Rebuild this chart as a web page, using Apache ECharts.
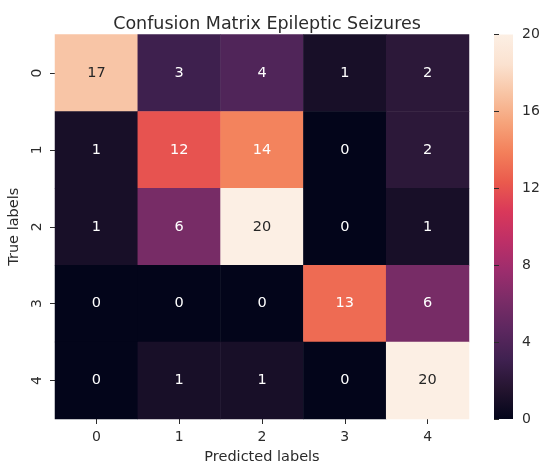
<!DOCTYPE html>
<html>
<head>
<meta charset="utf-8">
<script src="https://cdn.jsdelivr.net/npm/echarts@6/dist/echarts.min.js"></script>
<style>html,body{margin:0;padding:0;background:#fff;}#c{width:542px;height:465px;}</style>
</head>
<body>
<div id="c"></div>
<script>
const predictedLabels = ['0', '1', '2', '3', '4'];
const trueLabels = ['0', '1', '2', '3', '4'];
const matrix = [
  [17, 3, 4, 1, 2],
  [1, 12, 14, 0, 2],
  [1, 6, 20, 0, 1],
  [0, 0, 0, 13, 6],
  [0, 1, 1, 0, 20]
];
const colorbarTicks = [0, 4, 8, 12, 16, 20];
const rocket = ['#03051a', '#24142f', '#3f2150', '#5c275f', '#7a2c67', '#9c2d6d', '#bd2f67', '#d9385a', '#ea5a4d', '#f37f5a', '#f6a37a', '#f8c4a4', '#fbe2d0', '#fcefe4'];

const data = [];
matrix.forEach((row, i) => row.forEach((v, j) => {
  data.push({
    value: [j, i, v],
    label: { color: v >= 15 ? '#262626' : '#ffffff' }
  });
}));

const txt = '#2b2b2b';
const font = 'DejaVu Sans';
const cb = { left: 494, top: 34.5, width: 19, height: 384.5 };
const gradientStops = rocket.map((c, k) => ({ offset: 1 - k / (rocket.length - 1), color: c })).reverse();

const chart = echarts.init(document.getElementById('c'), null, { renderer: 'canvas' });
chart.setOption({
  animation: false,
  backgroundColor: '#ffffff',
  textStyle: { fontFamily: font },
  title: {
    text: 'Confusion Matrix Epileptic Seizures',
    left: 262, top: 10, textAlign: 'center',
    textStyle: { fontFamily: font, fontSize: 17.5, fontWeight: 'normal', color: txt }
  },
  grid: [
    { left: 55, top: 34.5, width: 414, height: 384.5, containLabel: false, outerBoundsMode: 'none' },
    { left: cb.left, top: cb.top, width: cb.width, height: cb.height, containLabel: false, outerBoundsMode: 'none' }
  ],
  graphic: [{
    type: 'rect', left: cb.left, top: cb.top, z: 0,
    shape: { width: cb.width, height: cb.height },
    style: { fill: new echarts.graphic.LinearGradient(0, 0, 0, 1, gradientStops) }
  }],
  xAxis: [
    {
      type: 'category', data: predictedLabels, gridIndex: 0,
      name: 'Predicted labels', nameLocation: 'middle', nameGap: 31,
      nameTextStyle: { fontFamily: font, fontSize: 14.5, color: txt },
      axisLine: { show: false },
      axisTick: { show: true, alignWithLabel: true, length: 5, lineStyle: { color: txt } },
      axisLabel: { fontFamily: font, fontSize: 14, color: txt, margin: 11 },
      splitLine: { show: false }
    },
    { type: 'value', gridIndex: 1, show: false, min: 0, max: 1 }
  ],
  yAxis: [
    {
      type: 'category', data: trueLabels, inverse: true, gridIndex: 0,
      name: 'True labels', nameLocation: 'middle', nameGap: 32, nameRotate: 90,
      nameTextStyle: { fontFamily: font, fontSize: 14.5, color: txt },
      axisLine: { show: false },
      axisTick: { show: true, alignWithLabel: true, length: 5, lineStyle: { color: txt } },
      axisLabel: { fontFamily: font, fontSize: 14, color: txt, rotate: 90, margin: 11 },
      splitLine: { show: false }
    },
    {
      type: 'value', gridIndex: 1, position: 'right', min: 0, max: 20, interval: 4,
      axisLine: { show: false },
      axisTick: { show: true, length: 5, lineStyle: { color: txt } },
      axisLabel: { fontFamily: font, fontSize: 14, color: txt, margin: 9,
        formatter: v => colorbarTicks.includes(v) ? String(v) : '' },
      splitLine: { show: false }
    }
  ],
  visualMap: {
    type: 'continuous', min: 0, max: 20, seriesIndex: 0, dimension: 2,
    show: false,
    inRange: { color: rocket }
  },
  series: [{
    type: 'heatmap', xAxisIndex: 0, yAxisIndex: 0, data: data,
    label: { show: true, fontFamily: font, fontSize: 14.5 },
    itemStyle: { borderWidth: 0 },
    emphasis: { disabled: true }
  }]
});
</script>
</body>
</html>
